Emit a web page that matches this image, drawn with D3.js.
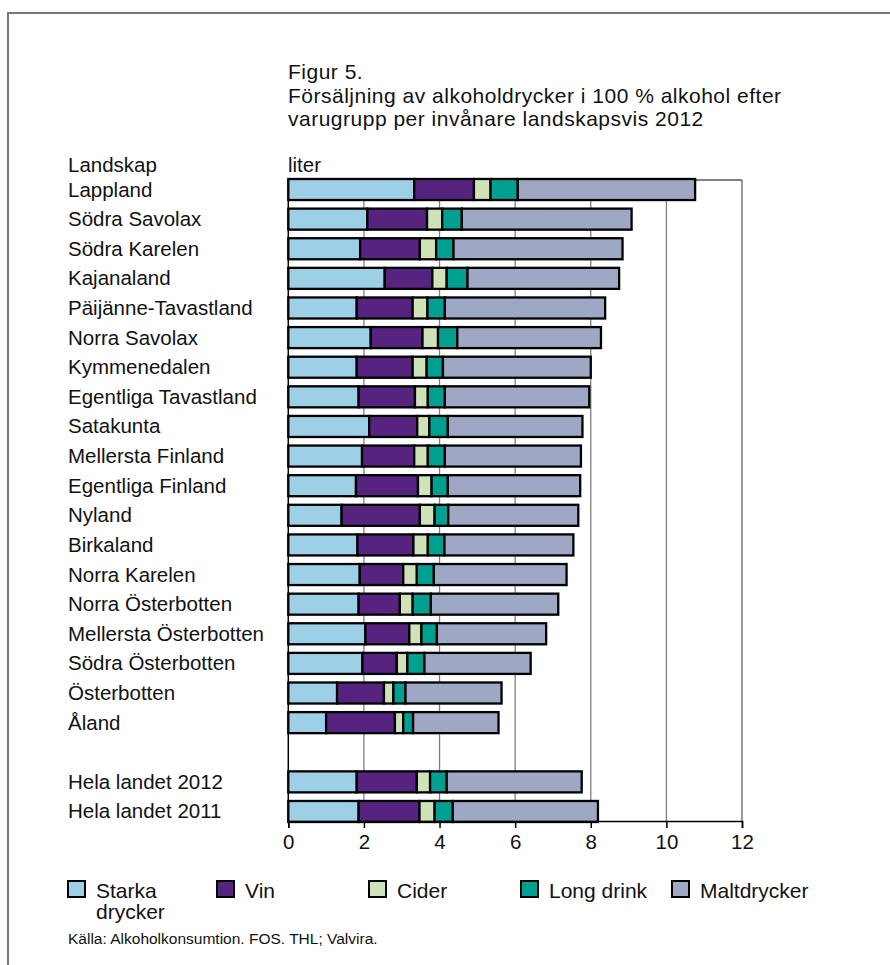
<!DOCTYPE html>
<html><head><meta charset="utf-8">
<script src="https://cdn.jsdelivr.net/npm/d3@7"></script>
<style>body{margin:0;background:#fff}svg{display:block;font-family:"Liberation Sans",Arial,sans-serif}</style>
</head><body><svg id="c" width="890" height="965"></svg>
<script>
const regions = ["Lappland","Södra Savolax","Södra Karelen","Kajanaland","Päijänne-Tavastland","Norra Savolax","Kymmenedalen","Egentliga Tavastland","Satakunta","Mellersta Finland","Egentliga Finland","Nyland","Birkaland","Norra Karelen","Norra Österbotten","Mellersta Österbotten","Södra Österbotten","Österbotten","Åland","Hela landet 2012","Hela landet 2011"];
const starka    = [3.33,2.09,1.90,2.55,1.81,2.18,1.81,1.86,2.14,1.95,1.79,1.41,1.83,1.89,1.86,2.04,1.96,1.29,1.00,1.81,1.86];
const vin       = [1.58,1.58,1.58,1.26,1.48,1.37,1.48,1.49,1.27,1.38,1.64,2.07,1.48,1.15,1.09,1.16,0.91,1.24,1.82,1.59,1.61];
const cider     = [0.44,0.40,0.43,0.38,0.39,0.41,0.37,0.34,0.32,0.36,0.36,0.39,0.38,0.36,0.34,0.32,0.28,0.25,0.22,0.35,0.40];
const longdrink = [0.72,0.52,0.46,0.55,0.46,0.51,0.43,0.45,0.49,0.45,0.43,0.36,0.44,0.45,0.48,0.41,0.45,0.32,0.26,0.44,0.48];
const malt      = [4.69,4.49,4.47,4.01,4.24,3.80,3.91,3.82,3.56,3.60,3.50,3.44,3.41,3.51,3.37,2.89,2.81,2.54,2.26,3.57,3.84];
const seriesNames = ["Starka drycker","Vin","Cider","Long drink","Maltdrycker"];
const colors = ["#9dcfe6","#56237f","#cfe3b9","#00a090","#9ea8c4"];
const xTicks = [0,2,4,6,8,10,12];
const titleLines = ["Figur 5.","Försäljning av alkoholdrycker i 100 % alkohol efter","varugrupp per invånare landskapsvis 2012"];

const svg = d3.select("#c");
const SPACER = "__gap__";
const domain = regions.slice(0,19).concat([SPACER]).concat(regions.slice(19));
const x = d3.scaleLinear().domain([0,12]).range([288.3,742]);
const y = d3.scaleBand().domain(domain).range([179,822]).paddingInner(0.29).paddingOuter(0);

// outer frame
svg.append("line").attr("x1",8).attr("x2",890).attr("y1",13).attr("y2",13).attr("stroke","#777").attr("stroke-width",2);
svg.append("line").attr("x1",8).attr("x2",8).attr("y1",12).attr("y2",965).attr("stroke","#777").attr("stroke-width",2);

// title (one text block, wrapped into lines)
const title = svg.append("text").attr("x",288).attr("y",79).attr("font-size",21).attr("letter-spacing",0.5).attr("fill","#111");
titleLines.forEach((l,i)=>title.append("tspan").attr("x",288).attr("dy",i?23.6:0).text(l));

svg.append("text").attr("x",68).attr("y",172).attr("font-size",20.5).attr("fill","#111").text("Landskap");
svg.append("text").attr("x",288).attr("y",172).attr("font-size",20.5).attr("fill","#111").text("liter");

const plotTop = 180, plotBottom = 821;
// gridlines
svg.append("g").selectAll("line").data(xTicks.filter(t=>t>0)).join("line")
  .attr("x1",d=>x(d)).attr("x2",d=>x(d)).attr("y1",plotTop).attr("y2",plotBottom)
  .attr("stroke",d=>d===12?"#666":"#808080").attr("stroke-width",1.3);
svg.append("line").attr("x1",x(0)).attr("x2",x(12)).attr("y1",plotTop).attr("y2",plotTop).attr("stroke","#555").attr("stroke-width",1.3);

// bars
const seriesArr = [starka,vin,cider,longdrink,malt];
const rows = regions.map((r,i)=>{
  let acc=0; return seriesArr.map((s,k)=>{const v0=acc; acc+=s[i]; return {r,k,v0,v1:acc};});
});
svg.append("g").selectAll("g").data(rows).join("g").selectAll("rect").data(d=>d).join("rect")
  .attr("x",d=>x(d.v0)).attr("width",d=>x(d.v1)-x(d.v0))
  .attr("y",d=>y(d.r)).attr("height",y.bandwidth())
  .attr("fill",d=>colors[d.k]).attr("stroke","#000").attr("stroke-width",2.3);

// left axis line
svg.append("line").attr("x1",x(0)).attr("x2",x(0)).attr("y1",plotTop).attr("y2",plotBottom).attr("stroke","#000").attr("stroke-width",1.5);

// category labels
svg.append("g").selectAll("text").data(regions).join("text")
  .attr("x",68).attr("y",d=>y(d)+y.bandwidth()/2+7).attr("font-size",20.5).attr("fill","#111").text(d=>d);

// x axis
const ax = svg.append("g").attr("transform",`translate(0,${plotBottom})`)
  .call(d3.axisBottom(x).tickValues(xTicks).tickSize(7).tickFormat(d3.format("d")));
ax.select(".domain").attr("stroke","#000").attr("stroke-width",1.5);
ax.selectAll(".tick line").attr("stroke","#000").attr("stroke-width",1.5);
ax.selectAll(".tick text").attr("font-size",20.5).attr("font-family","Liberation Sans, Arial, sans-serif").attr("fill","#111").attr("dy","0.95em").attr("y",9);

// legend
const legX = [68,217,369,521,672];
const lg = svg.append("g").selectAll("g").data(seriesNames).join("g")
  .attr("transform",(d,i)=>`translate(${legX[i]},0)`);
lg.append("rect").attr("x",0).attr("y",881).attr("width",17).attr("height",16)
  .attr("fill",(d,i)=>colors[i]).attr("stroke","#000").attr("stroke-width",2);
lg.append("text").attr("x",28).attr("y",898).attr("font-size",21).attr("fill","#111")
  .each(function(d){
    const t=d3.select(this);
    const parts = d==="Starka drycker"?["Starka","drycker"]:[d];
    parts.forEach((p,j)=>t.append("tspan").attr("x",28).attr("dy",j?21:0).text(p));
  });

svg.append("text").attr("x",68).attr("y",944).attr("font-size",15.5).attr("fill","#111")
  .text("Källa: Alkoholkonsumtion. FOS. THL; Valvira.");
</script></body></html>
